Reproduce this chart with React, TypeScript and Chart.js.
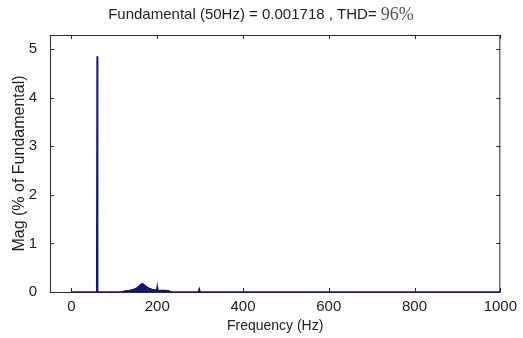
import React, { useEffect, useRef } from "react";
import { Chart, registerables } from "chart.js";

Chart.register(...registerables);

const freqHz = [0, 59, 60, 61, 118, 125, 135, 145, 152, 158, 163, 166, 170, 176, 182, 188, 194, 199, 200, 201, 210, 220, 228, 232, 296, 298, 300, 1000];
const magPct = [0, 0, 4.85, 0, 0, 0.02, 0.03, 0.05, 0.08, 0.12, 0.16, 0.17, 0.14, 0.1, 0.07, 0.05, 0.04, 0.03, 0.1, 0.03, 0.03, 0.03, 0.02, 0, 0, 0.06, 0, 0];
const xTicks = [0, 200, 400, 600, 800, 1000];
const yTicks = [0, 1, 2, 3, 4, 5];
const titleMain = "Fundamental (50Hz) = 0.001718 , THD= ";
const titleTHD = "96%";
const xTitle = "Frequency (Hz)";
const yTitle = "Mag (% of Fundamental)";

const SANS = "'Liberation Sans', Arial, sans-serif";
const SERIF = "'Liberation Serif', 'Times New Roman', serif";
const AXIS = "#2a2a2a";
const LINE = "#14147a";

const framePlugin = {
  id: "matlabFrame",
  beforeDatasetsDraw(chart: any) {
    const { ctx, chartArea: a, scales } = chart;
    ctx.save();
    ctx.strokeStyle = AXIS;
    ctx.lineWidth = 1;
    ctx.strokeRect(a.left + 0.5, a.top + 0.5, a.right - a.left - 1, a.bottom - a.top);
    const tl = 4;
    ctx.beginPath();
    xTicks.forEach((v) => {
      const x = Math.round(scales.x.getPixelForValue(v)) + 0.5;
      ctx.moveTo(x, a.bottom);
      ctx.lineTo(x, a.bottom - tl);
      ctx.moveTo(x, a.top);
      ctx.lineTo(x, a.top + tl);
    });
    yTicks.forEach((v) => {
      const y = Math.round(scales.y.getPixelForValue(v)) + 0.5;
      ctx.moveTo(a.left, y);
      ctx.lineTo(a.left + tl, y);
      ctx.moveTo(a.right, y);
      ctx.lineTo(a.right - tl, y);
    });
    ctx.stroke();
    ctx.restore();
  },
  afterDraw(chart: any) {
    const { ctx } = chart;
    ctx.save();
    ctx.textBaseline = "middle";
    ctx.font = `15px ${SANS}`;
    const w1 = ctx.measureText(titleMain).width;
    ctx.font = `18px ${SERIF}`;
    const w2 = ctx.measureText(titleTHD).width;
    const cx = 261;
    const x0 = cx - (w1 + w2) / 2;
    ctx.textAlign = "left";
    ctx.font = `15px ${SANS}`;
    ctx.fillStyle = "#222";
    ctx.fillText(titleMain, x0, 15);
    ctx.font = `18px ${SERIF}`;
    ctx.fillStyle = "#555";
    ctx.fillText(titleTHD, x0 + w1, 15);
    ctx.restore();
  },
};

export default function App() {
  const ref = useRef<HTMLCanvasElement>(null);
  useEffect(() => {
    if (!ref.current) return;
    const chart = new Chart(ref.current, {
      type: "line",
      data: {
        datasets: [
          {
            data: freqHz.map((f, i) => ({ x: f, y: magPct[i] })),
            borderColor: LINE,
            backgroundColor: LINE,
            borderWidth: 1.6,
            pointRadius: 0,
            fill: "origin",
            tension: 0,
            clip: 2,
          },
        ],
      },
      options: {
        responsive: false,
        animation: false,
        layout: { padding: { top: 35, left: 0, right: 20, bottom: 0 } },
        plugins: { legend: { display: false }, tooltip: { enabled: false }, title: { display: false } },
        scales: {
          x: {
            type: "linear",
            min: -50,
            max: 1000,
            afterBuildTicks: (s: any) => {
              s.ticks = xTicks.map((v) => ({ value: v }));
            },
            afterFit: (s: any) => {
              s.height = 46;
            },
            grid: { display: false, drawTicks: false },
            border: { display: false },
            ticks: { padding: 6, color: "#222", font: { family: SANS, size: 15 }, maxRotation: 0, callback: (v: any) => String(v) },
            title: { display: true, text: xTitle, color: "#222", font: { family: SANS, size: 14 }, padding: { top: 0, bottom: 3 } },
          },
          y: {
            type: "linear",
            min: 0,
            max: 5.29,
            afterBuildTicks: (s: any) => {
              s.ticks = yTicks.map((v) => ({ value: v }));
            },
            afterFit: (s: any) => {
              s.width = 50;
            },
            grid: { display: false, drawTicks: false },
            border: { display: false },
            ticks: { padding: 13, color: "#222", font: { family: SANS, size: 15 }, callback: (v: any) => String(v) },
            title: { display: true, text: yTitle, color: "#222", font: { family: SANS, size: 16 }, padding: { top: 10, bottom: 0 } },
          },
        },
      },
      plugins: [framePlugin],
    });
    return () => chart.destroy();
  }, []);
  return (
    <div style={{ position: "fixed", left: 0, top: 0, width: 523, height: 338, background: "#fff" }}>
      <canvas ref={ref} width={523} height={338} />
    </div>
  );
}
